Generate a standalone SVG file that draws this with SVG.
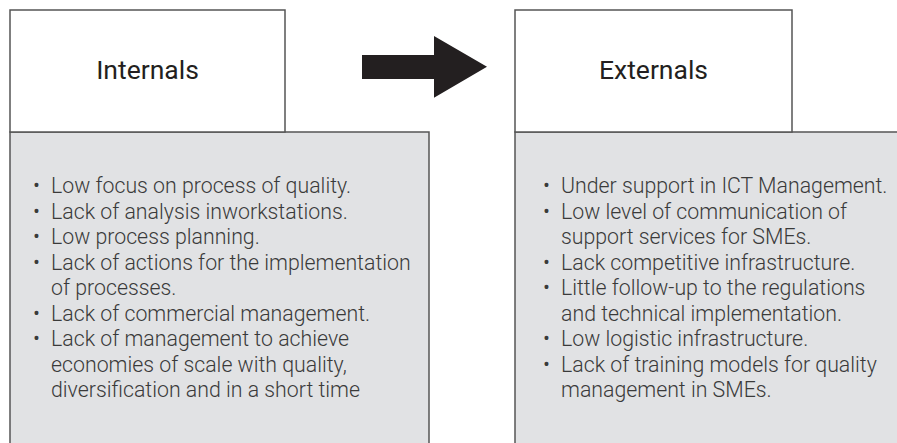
<svg xmlns="http://www.w3.org/2000/svg" width="897" height="443" viewBox="0 0 897 443">
  <style>
    .frame { stroke: #555; stroke-width: 1.5; }
    .head { fill: #fff; }
    .body { fill: #e1e2e4; }
    .title { font-family: Roboto, "Liberation Sans", sans-serif; font-size: 26.5px; font-weight: 400; fill: #231f20; text-anchor: middle; }
    .item { font-family: Roboto, "Liberation Sans", sans-serif; font-size: 21.3px; font-weight: 300; fill: #3a3a3a; }
  </style>
  <rect width="897" height="443" fill="#fff"/>

  <g id="internals">
    <rect class="frame body" x="10" y="132" width="419" height="330"/>
    <rect class="frame head" x="10" y="10" width="275" height="122"/>
    <text class="title" x="147.5" y="78.5">Internals</text>
    <g class="item">
      <text x="33" y="193">•</text><text x="51" y="193">Low focus on process of quality.</text>
      <text x="33" y="218.5">•</text><text x="51" y="218.5">Lack of analysis inworkstations.</text>
      <text x="33" y="244">•</text><text x="51" y="244">Low process planning.</text>
      <text x="33" y="269.5">•</text><text x="51" y="269.5">Lack of actions for the implementation</text>
      <text x="51" y="295">of processes.</text>
      <text x="33" y="320.5">•</text><text x="51" y="320.5">Lack of commercial management.</text>
      <text x="33" y="346">•</text><text x="51" y="346">Lack of management to achieve</text>
      <text x="51" y="371.5">economies of scale with quality,</text>
      <text x="51" y="397">diversification and in a short time</text>
    </g>
  </g>

  <g id="connectors">
    <polygon fill="#231f20" points="362,55 434,55 434,36 487,66.7 434,97.7 434,79 362,79"/>
  </g>

  <g id="externals">
    <rect class="frame body" x="515" y="132" width="400" height="330"/>
    <rect class="frame head" x="515" y="10" width="277" height="122"/>
    <text class="title" x="653.5" y="78.5">Externals</text>
    <g class="item">
      <text x="543" y="193">•</text><text x="561" y="193">Under support in ICT Management.</text>
      <text x="543" y="218.5">•</text><text x="561" y="218.5">Low level of communication of</text>
      <text x="561" y="244">support services for SMEs.</text>
      <text x="543" y="269.5">•</text><text x="561" y="269.5">Lack competitive infrastructure.</text>
      <text x="543" y="295">•</text><text x="561" y="295">Little follow-up to the regulations</text>
      <text x="561" y="320.5">and technical implementation.</text>
      <text x="543" y="346">•</text><text x="561" y="346">Low logistic infrastructure.</text>
      <text x="543" y="371.5">•</text><text x="561" y="371.5">Lack of training models for quality</text>
      <text x="561" y="397">management in SMEs.</text>
    </g>
  </g>
</svg>
